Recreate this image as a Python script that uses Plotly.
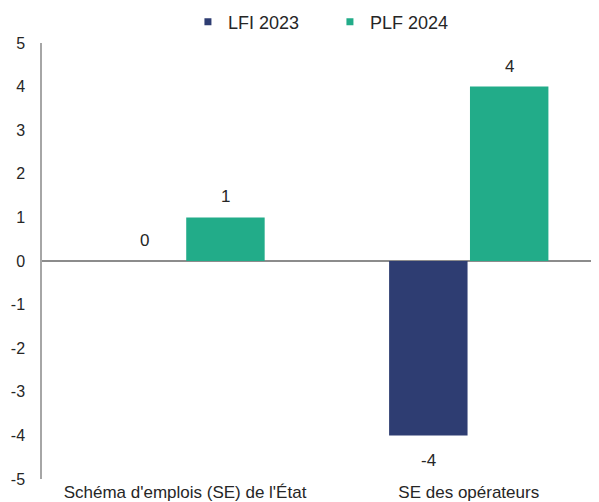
import plotly.graph_objects as go

categories = ["Schéma d'emplois (SE) de l'État", "SE des opérateurs"]
lfi_2023 = [0, -4]
plf_2024 = [1, 4]
series_names = ["LFI 2023", "PLF 2024"]
series_colors = ["#2E3D72", "#22AC89"]
y_ticks = [-5, -4, -3, -2, -1, 0, 1, 2, 3, 4, 5]

font_family = "Liberation Sans, Arial, sans-serif"
text_color = "#262626"

fig = go.Figure()
for name, vals, col in zip(series_names, [lfi_2023, plf_2024], series_colors):
    fig.add_trace(go.Bar(
        x=categories, y=vals, name=name, legendgroup=name, showlegend=False,
        marker=dict(color=col, line=dict(width=0)),
    ))
# legend entries with small square markers
for name, col in zip(series_names, series_colors):
    fig.add_trace(go.Scatter(
        x=[None], y=[None], mode="markers", name=name, legendgroup=name,
        marker=dict(symbol="square", size=7, color=col),
    ))

# data labels (offset by group slot)
slot_px = 40.5
for offs, vals in zip([-slot_px, slot_px], [lfi_2023, plf_2024]):
    for cat, v in zip(categories, vals):
        fig.add_annotation(
            x=cat, y=v, text=str(v), showarrow=False,
            xshift=offs, yshift=(9 if v >= 0 else -14),
            yanchor=("bottom" if v >= 0 else "top"),
            font=dict(size=17, color=text_color, family=font_family),
        )

fig.update_layout(
    width=599, height=502,
    margin=dict(l=34, r=8, t=35, b=31, autoexpand=False),
    paper_bgcolor="white", plot_bgcolor="white",
    font=dict(family=font_family, size=16, color=text_color),
    barmode="group", bargap=0.43, bargroupgap=0.03,
    showlegend=True,
    legend=dict(orientation="h", x=0.262, xanchor="left", y=1.048, yanchor="middle",
                font=dict(size=18, color=text_color), itemwidth=30,
                entrywidth=97, entrywidthmode="pixels"),
)
fig.update_xaxes(
    type="category", categoryorder="array", categoryarray=categories,
    range=[-0.504, 1.459], showgrid=False, showline=False, zeroline=False,
    ticks="", ticklabelstandoff=1, tickfont=dict(size=17, color=text_color),
    automargin=False,
)
fig.update_yaxes(
    range=[-5, 5], tickvals=y_ticks, ticktext=[str(v) for v in y_ticks],
    showgrid=False, showline=True, linecolor="#A6A6A6", linewidth=1.5,
    zeroline=True, zerolinecolor="#8C8C8C", zerolinewidth=2,
    ticks="", ticklabelstandoff=12, tickfont=dict(size=16, color=text_color),
    automargin=False,
)

fig.write_html("out.html")
